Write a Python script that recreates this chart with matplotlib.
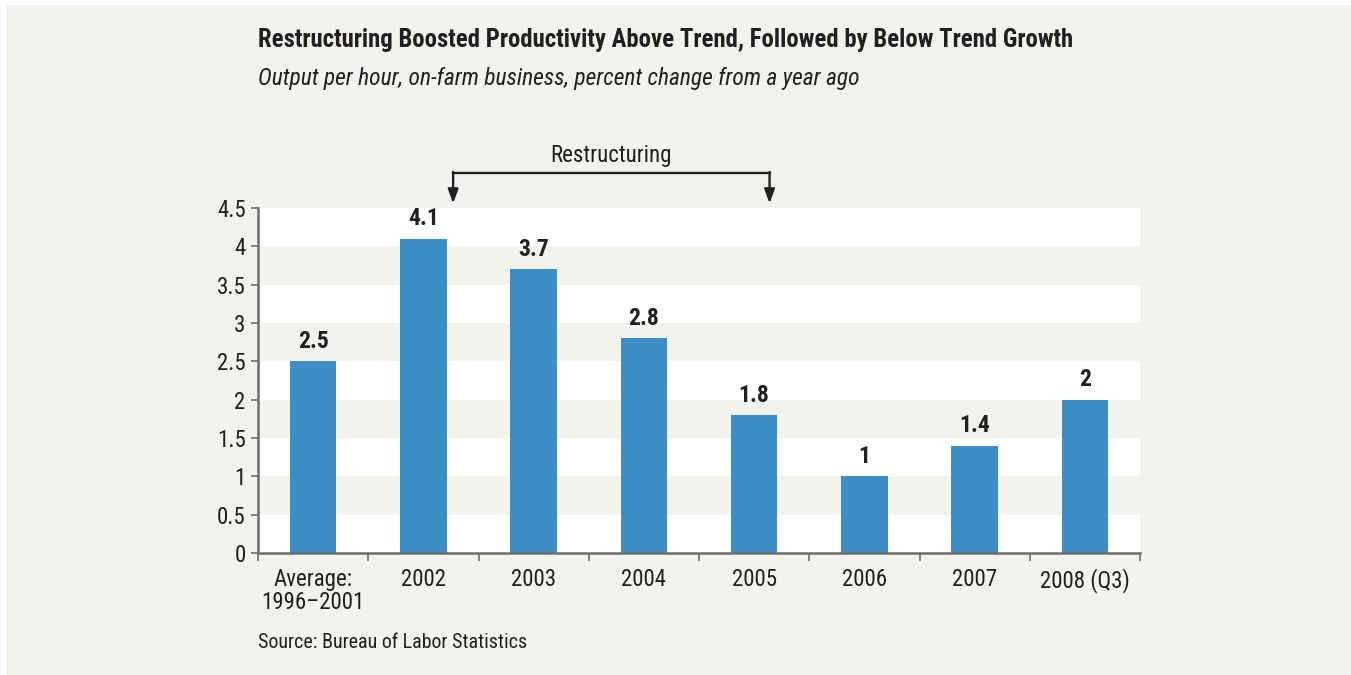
import matplotlib
matplotlib.use('Agg')
from matplotlib import pyplot as plt
from matplotlib.patches import Rectangle
import numpy as np

plt.rcParams['font.family'] = ['Roboto Condensed', 'DejaVu Sans']

# productivity growth data
categories = ['Average:\n1996\u20132001', '2002', '2003', '2004', '2005', '2006', '2007', '2008 (Q3)']
values = [2.5, 4.1, 3.7, 2.8, 1.8, 1.0, 1.4, 2.0]
value_labels = ['2.5', '4.1', '3.7', '2.8', '1.8', '1', '1.4', '2']
yticks = [0, 0.5, 1, 1.5, 2, 2.5, 3, 3.5, 4, 4.5]
ytick_labels = ['0', '0.5', '1', '1.5', '2', '2.5', '3', '3.5', '4', '4.5']

bg = '#f3f3ee'
bar_color = '#3d8dc7'
txt = '#231f20'

fig = plt.figure(figsize=(13.51, 6.75), dpi=100)
fig.patch.set_facecolor('white')
fig.patches.append(Rectangle((6/1351, -0.01), 1, 1.01 - 5/675, transform=fig.transFigure,
                             facecolor=bg, edgecolor='none', zorder=-10))

ax = fig.add_axes([258/1351, 122/675, 882/1351, 345/675])
ax.set_facecolor(bg)
x = np.arange(len(categories))

# white bands every other half unit
for lo in [0, 1, 2, 3, 4]:
    ax.axhspan(lo, lo + 0.5, color='white', zorder=0, lw=0)

ax.bar(x, values, width=0.42, color=bar_color, zorder=2)
for xi, v, lab in zip(x, values, value_labels):
    ax.annotate(lab, xy=(xi, v), xytext=(0, 6), textcoords='offset points',
                ha='center', va='bottom', fontsize=17, fontweight='bold', color=txt)

ax.set_xlim(-0.5, len(categories) - 0.5)
ax.set_ylim(0, 4.5)
ax.set_yticks(yticks)
ax.set_yticklabels(ytick_labels)
ax.set_xticks(x)
ax.set_xticklabels(categories, linespacing=1.0)
ax.set_xticks(np.arange(-0.5, len(categories)), minor=True)
ax.tick_params(axis='x', which='major', length=0, pad=11, labelsize=16.5, labelcolor=txt)
ax.tick_params(axis='x', which='minor', length=6, width=1.2, color='#6d6d6d', direction='out')
ax.tick_params(axis='y', length=5, width=1.2, color='#6d6d6d', pad=4, labelsize=16.5, labelcolor=txt)

for s in ['top', 'right']:
    ax.spines[s].set_visible(False)
for s in ['left', 'bottom']:
    ax.spines[s].set_color('#6d6d6d')
    ax.spines[s].set_linewidth(1.8)

# restructuring bracket
x0, x1, yb, ytip = 1.27, 4.14, 4.96, 4.56
ax.plot([x0, x1], [yb, yb], color=txt, lw=1.7, clip_on=False, solid_capstyle='projecting')
for xa in [x0, x1]:
    ax.annotate('', xy=(xa, ytip), xytext=(xa, yb + 0.01), annotation_clip=False,
                arrowprops=dict(arrowstyle='-|>,head_length=0.6,head_width=0.22', color=txt,
                                lw=1.7, mutation_scale=14, shrinkA=0, shrinkB=0))
ax.text((x0 + x1) / 2, yb + 0.07, 'Restructuring', ha='center', va='bottom',
        fontsize=16.5, color=txt)

fig.text(258/1351, 1 - 40/675, 'Restructuring Boosted Productivity Above Trend, Followed by Below Trend Growth',
         fontsize=17.8, fontweight='bold', color=txt, va='center', ha='left')
fig.text(258/1351, 1 - 79/675, 'Output per hour, on-farm business, percent change from a year ago',
         fontsize=16.9, style='italic', color=txt, va='center', ha='left')
fig.text(258/1351, 1 - 643/675, 'Source: Bureau of Labor Statistics',
         fontsize=14.4, color=txt, va='center', ha='left')

fig.savefig('out.png', dpi=100, facecolor=fig.get_facecolor())
